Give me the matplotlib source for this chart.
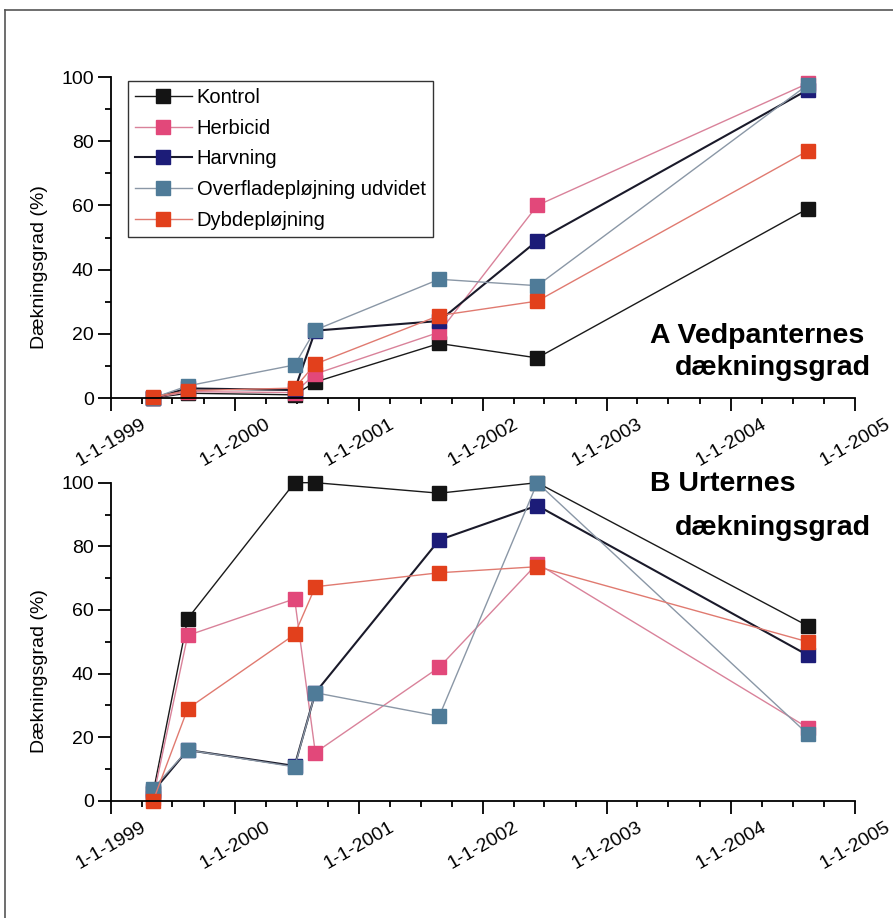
import datetime as dt
import matplotlib
matplotlib.use("Agg")
import matplotlib.pyplot as plt
import matplotlib.dates as mdates
from matplotlib.lines import Line2D
from matplotlib.ticker import MultipleLocator
from matplotlib.transforms import ScaledTranslation

dates = ["1999-05-05", "1999-08-15", "2000-06-25", "2000-08-25",
         "2001-08-25", "2002-06-10", "2004-08-15"]
series_names = ["Kontrol", "Herbicid", "Harvning", "Overfladepløjning udvidet", "Dybdepløjning"]

# Panel A: Vedpanternes dækningsgrad
a_kontrol = [0, 1.5, 1, 5, 17, 12.5, 59]
a_herbicid = [0, 2, 1.7, 7.5, 20.5, 60, 98]
a_harvning = [0, 3, 2.5, 21, 24, 49, 96]
a_overflade = [0, 3.8, 10.3, 21.2, 37, 35, 97.6]
a_dybde = [0.3, 2.3, 3.1, 10.6, 25.7, 30.2, 77]

# Panel B: Urternes dækningsgrad
b_kontrol = [2.5, 57.3, 100, 100, 96.7, 100, 55]
b_herbicid = [1, 52, 63.5, 15.2, 42, 74.6, 23]
b_harvning = [3, 16, 11, 34, 82, 92.8, 45.8]
b_overflade = [3.9, 16, 10.7, 34, 26.6, 100, 21]
b_dybde = [0, 29, 52.3, 67.3, 71.7, 73.6, 50]

year_ticks = ["1-1-1999", "1-1-2000", "1-1-2001", "1-1-2002", "1-1-2003", "1-1-2004", "1-1-2005"]
ylabel = "Dækningsgrad (%)"
title_a = ["A Vedpanternes", "dækningsgrad"]
title_b = ["B Urternes", "dækningsgrad"]

marker_colors = ["#141414", "#e2487a", "#1c1c78", "#4f7b98", "#e2401c"]
line_colors = ["#1a1a1a", "#d9829a", "#1a1a2a", "#8a97a6", "#e07a70"]
line_widths = [1.0, 1.0, 1.5, 1.0, 1.0]

FONT = ["Liberation Sans", "DejaVu Sans"]
plt.rcParams["font.family"] = FONT

xdates = [dt.datetime.strptime(d, "%Y-%m-%d") for d in dates]

fig = plt.figure(figsize=(8.93, 9.18), dpi=100)
axA = fig.add_axes([0.1243, 0.5664, 0.8331, 0.3497])
axB = fig.add_axes([0.1243, 0.1275, 0.8331, 0.3467])

def style(ax):
    ax.set_xlim(dt.datetime(1999, 1, 1), dt.datetime(2005, 1, 1))
    ax.set_ylim(0, 100)
    for s in ["top", "right"]:
        ax.spines[s].set_visible(False)
    for s in ["left", "bottom"]:
        ax.spines[s].set_linewidth(1.3)
    ax.set_xticks([dt.datetime(1999 + i, 1, 1) for i in range(len(year_ticks))])
    ax.set_xticklabels(year_ticks, rotation=30, ha="center", va="top", fontsize=14)
    off = ScaledTranslation(-7 / 100, 0, fig.dpi_scale_trans)
    for lab in ax.get_xticklabels():
        lab.set_transform(lab.get_transform() + off)
    ax.xaxis.set_minor_locator(mdates.MonthLocator(bymonth=[4, 7, 10]))
    ax.yaxis.set_major_locator(MultipleLocator(20))
    ax.yaxis.set_minor_locator(MultipleLocator(10))
    ax.tick_params(axis="both", which="major", length=9.5, width=1.3, labelsize=14)
    ax.tick_params(axis="both", which="minor", length=4.5, width=1.3)
    ax.tick_params(axis="x", labelsize=14, pad=3)
    ax.tick_params(axis="y", pad=3)
    ax.set_ylabel(ylabel, fontsize=14)
    ax.yaxis.set_label_coords(-0.085, 0.408)
    ax.set_facecolor("none")

def draw(ax, data):
    for name, vals, mc, lc, lw in zip(series_names, data, marker_colors, line_colors, line_widths):
        ax.plot(xdates, vals, color=lc, lw=lw, marker="s", markersize=10.5,
                markerfacecolor=mc, markeredgecolor=mc, label=name, clip_on=False)

style(axA)
style(axB)
draw(axA, [a_kontrol, a_herbicid, a_harvning, a_overflade, a_dybde])
draw(axB, [b_kontrol, b_herbicid, b_harvning, b_overflade, b_dybde])

leg = axA.legend(loc="upper left", bbox_to_anchor=(0.023, 0.9875), fontsize=14.5,
                 frameon=True, fancybox=False, edgecolor="black", handlelength=2.8,
                 handletextpad=0.25, borderpad=0.35, labelspacing=0.58, borderaxespad=0)
leg.get_frame().set_linewidth(1.0)

tkw = dict(ha="left", va="baseline", fontsize=20.5, fontweight="bold")
axA.text(0.7245, 0.172, title_a[0], transform=axA.transAxes, **tkw)
axA.text(0.758, 0.072, title_a[1], transform=axA.transAxes, **tkw)
axB.text(0.7245, 0.975, title_b[0], transform=axB.transAxes, **tkw)
axB.text(0.758, 0.8365, title_b[1], transform=axB.transAxes, **tkw)

# outer frame lines
fig.add_artist(Line2D([5 / 893, 5 / 893], [0, 1 - 10 / 918], transform=fig.transFigure, color="#555555", lw=1.2))
fig.add_artist(Line2D([5 / 893, 1], [1 - 10 / 918, 1 - 10 / 918], transform=fig.transFigure, color="#555555", lw=1.2))

fig.savefig("out.png", dpi=100)
